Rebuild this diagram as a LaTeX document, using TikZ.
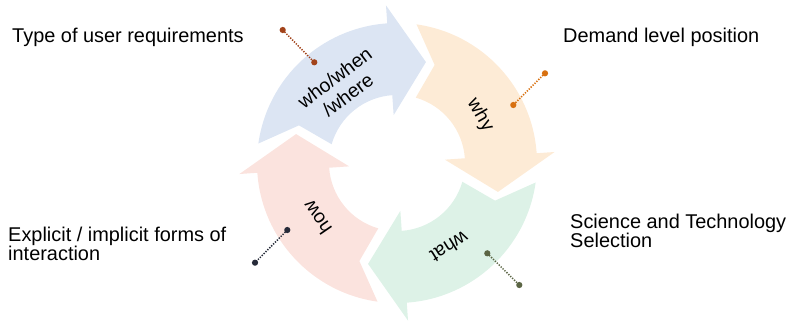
\documentclass[tikz,border=0pt]{standalone}
\usepackage{fontspec}
\setmainfont{Liberation Sans}
\definecolor{blueseg}{HTML}{DCE5F3}
\definecolor{orangeseg}{HTML}{FDEBD6}
\definecolor{greenseg}{HTML}{DDF2E7}
\definecolor{pinkseg}{HTML}{FBE3DE}
\definecolor{brownpin}{HTML}{A2431A}
\definecolor{orangepin}{HTML}{D8700F}
\definecolor{greenpin}{HTML}{5B6544}
\definecolor{navypin}{HTML}{262B39}
% one curved arrow of the cycle: #1 = angle of its tip, #2 = fill colour
\newcommand\cyclearrow[2]{%
  \fill[#2] ({#1+98}:140) arc[start angle={#1+98}, end angle={#1+20}, radius=140]
    -- ({#1+20}:158) -- (#1:105) -- ({#1+20}:48) -- ({#1+20}:68)
    arc[start angle={#1+20}, end angle={#1+90}, radius=68]
    -- ({#1+85}:105) -- cycle;}
\begin{document}
\begin{tikzpicture}[x=0.03cm, y=0.03cm,
  lbl/.style={inner sep=0pt, font=\fontsize{17}{16.2}\selectfont, text=black},
  seglbl/.style={inner sep=0pt, align=center, font=\fontsize{16.5}{18.5}\selectfont, text=black},
  pin/.style={line width=1.3pt, dash pattern=on 1.1pt off 1.2pt},
  pindot/.style={radius=3.1}]
\useasboundingbox (0,0) rectangle (791,323);

\begin{scope}[shift={(397,160)}]
  \cyclearrow{74}{blueseg}
  \cyclearrow{-16}{orangeseg}
  \cyclearrow{-106}{greenseg}
  \cyclearrow{164}{pinkseg}
  \node[seglbl, rotate=37]   (who)  at (126:95) {who/when\\/where};
  \node[seglbl, rotate=-60]  (why)  at (30:96)  {why};
  \node[seglbl, rotate=-148] (what) at (-58:99) {what};
  \node[seglbl, rotate=124.5] (how) at (-145.5:97) {how};
\end{scope}

% outer labels (two-line ones are placed by the baseline of their last line)
\node[lbl, anchor=base west] (typelbl) at (12,281) {Type of user requirements};
\node[lbl, anchor=base west] (demandlbl) at (563,281) {Demand level position};
\node[lbl, anchor=base west, align=left] (sciencelbl) at (570,76) {Science and Technology\\Selection};
\node[lbl, anchor=base west, align=left] (explicitlbl) at (8,63) {Explicit / implicit forms of\\interaction};

% dotted pins
\coordinate (b1) at (282.7,293);   \coordinate (b2) at (314.3,260.7);
\coordinate (o1) at (545,249.7);   \coordinate (o2) at (513.3,218);
\coordinate (g1) at (487.3,69.7);  \coordinate (g2) at (519.3,38);
\coordinate (n1) at (287.3,93);    \coordinate (n2) at (255,60.3);
\draw[pin, brownpin] (b1) -- (b2);
\fill[brownpin] (b1) circle[pindot] (b2) circle[pindot];
\draw[pin, orangepin] (o1) -- (o2);
\fill[orangepin] (o1) circle[pindot] (o2) circle[pindot];
\draw[pin, greenpin] (g1) -- (g2);
\fill[greenpin] (g1) circle[pindot] (g2) circle[pindot];
\draw[pin, navypin] (n1) -- (n2);
\fill[navypin] (n1) circle[pindot] (n2) circle[pindot];
\end{tikzpicture}
\end{document}
